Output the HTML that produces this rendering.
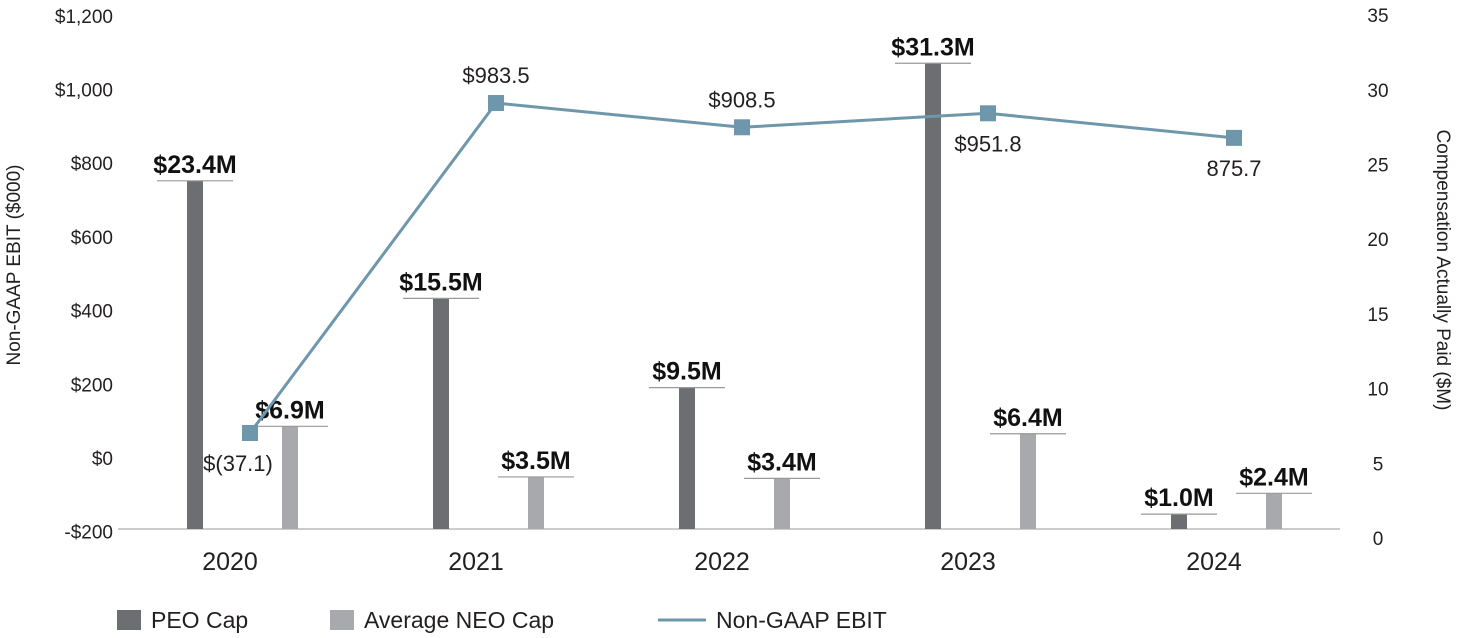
<!DOCTYPE html>
<html><head><meta charset="utf-8"><style>
html,body{margin:0;padding:0;background:#fff;}
svg{display:block;font-family:"Liberation Sans",sans-serif;}
</style></head><body>
<svg width="1457" height="638" viewBox="0 0 1457 638" id="chart">
<text transform="translate(20,265) rotate(-90)" text-anchor="middle" font-size="19" fill="#231f20">Non-GAAP EBIT ($000)</text>
<text transform="translate(1437,270) rotate(90)" text-anchor="middle" font-size="19" fill="#231f20">Compensation Actually Paid ($M)</text>
<line x1="118" y1="529" x2="1340" y2="529" stroke="#bbb" stroke-width="1.5"/>
<g id="legend">
<rect x="117" y="610" width="24" height="20" fill="#6d6e71"/>
<text x="151" y="628" font-size="23" fill="#231f20">PEO Cap</text>
<rect x="330" y="610" width="24" height="20" fill="#a7a9ac"/>
<text x="364" y="628" font-size="23" fill="#231f20">Average NEO Cap</text>
<line x1="658" y1="620" x2="706" y2="620" stroke="#6f97ab" stroke-width="3"/>
<text x="716" y="628" font-size="23" fill="#231f20">Non-GAAP EBIT</text>
</g>
</svg>
<script>
const years = ["2020","2021","2022","2023","2024"];
const peoCap = [23.4, 15.5, 9.5, 31.3, 1.0];
const neoCap = [6.9, 3.5, 3.4, 6.4, 2.4];
const ebit = [-37.1, 983.5, 908.5, 951.8, 875.7];
const ebitLabels = ["$(37.1)", "$983.5", "$908.5", "$951.8", "875.7"];
const leftTicks = [-200, 0, 200, 400, 600, 800, 1000, 1200];
const leftTickLabels = ["-$200","$0","$200","$400","$600","$800","$1,000","$1,200"];
const rightTicks = [0,5,10,15,20,25,30,35];

const NS = "http://www.w3.org/2000/svg";
const svg = document.getElementById('chart');
function mk(tag, attrs, parent){const e=document.createElementNS(NS,tag);for(const k in attrs)e.setAttribute(k,attrs[k]);(parent||svg).appendChild(e);return e;}
const xC = i => 230 + i*246;
const yBar = v => 529 - v*14.88;
const yRightTick = v => 538 - v*14.94;
const yLeftTick = v => 458 - v*0.3685;
const yLine = v => 421 - v*0.3233;

leftTicks.forEach((v,i)=>{
  const t=mk('text',{x:113,y:yLeftTick(v)+7,'text-anchor':'end','font-size':19,fill:'#231f20'});
  t.textContent=leftTickLabels[i];
  
  
});
rightTicks.forEach(v=>{
  const t=mk('text',{x:1378,y:yRightTick(v)+7,'text-anchor':'middle','font-size':19,fill:'#231f20'});
  t.textContent=String(v);
  
  
});
years.forEach((y,i)=>{
  const t=mk('text',{x:xC(i),y:570,'text-anchor':'middle','font-size':25,fill:'#231f20'});
  t.textContent=y;
  
  
});
function bar(i,v,off,color,name){
  const cx=xC(i)+off, top=yBar(v);
  const r=mk('rect',{x:cx-8,y:top,width:16,height:529-top,fill:color});
  
  
  const l=mk('line',{x1:cx-38,x2:cx+38,y1:top,y2:top,stroke:'#999','stroke-width':1.2});
  
  
  const t=mk('text',{x:cx,y:top-8,'text-anchor':'middle','font-size':25,'font-weight':'bold',fill:'#111'});
  t.textContent='$'+v.toFixed(1)+'M';
  
  
}
years.forEach((y,i)=>{bar(i,peoCap[i],-35,'#6d6e71','peo-bar-'+y);bar(i,neoCap[i],60,'#a7a9ac','neo-bar-'+y);});
const pts=ebit.map((v,i)=>[xC(i)+20,yLine(v)]);
const pl=mk('polyline',{points:pts.map(p=>p.join(',')).join(' '),fill:'none',stroke:'#6f97ab','stroke-width':3});


const labelBelow=[true,false,false,true,true];
pts.forEach((p,i)=>{
  const m=mk('rect',{x:p[0]-8,y:p[1]-8,width:16,height:16,fill:'#6f97ab'});
  
  
  const dx = i===0 ? -12 : 0;
  const t=mk('text',{x:p[0]+dx,y:labelBelow[i]?p[1]+38:p[1]-20,'text-anchor':'middle','font-size':22,fill:'#231f20'});
  t.textContent=ebitLabels[i];
  
  
});
</script>
</body></html>
